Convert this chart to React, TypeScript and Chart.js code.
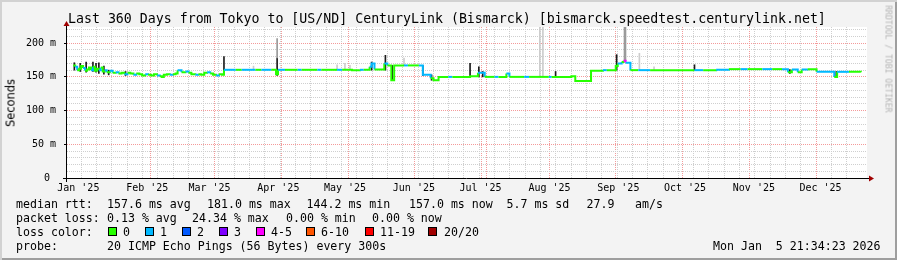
import React, { useEffect, useRef } from 'react';
import { Chart, registerables } from 'chart.js';

Chart.register(...registerables);

// ---- time frame (days since start of the 360-day window) ----
const START_MS = Date.UTC(2025, 0, 10, 21, 34);
const DAY_MS = 86400000;
const dayOf = (y: number, m: number, d: number) => (Date.UTC(y, m, d) - START_MS) / DAY_MS;

const monthLabels = ["Jan '25", "Feb '25", "Mar '25", "Apr '25", "May '25", "Jun '25", "Jul '25", "Aug '25", "Sep '25", "Oct '25", "Nov '25", "Dec '25"];
const monthLabelDates: [number, number, number][] = monthLabels.map((_, i) => [2025, i, 16]);
const monthLineDates: [number, number, number][] = [
  [2025, 1, 1], [2025, 2, 1], [2025, 3, 1], [2025, 4, 1], [2025, 5, 1], [2025, 6, 1],
  [2025, 7, 1], [2025, 8, 1], [2025, 9, 1], [2025, 10, 1], [2025, 11, 1], [2026, 0, 1],
];
const firstWeekLine: [number, number, number] = [2025, 0, 11];

const yTickValues = [0, 10, 20, 30, 40, 50, 60, 70, 80, 90, 100, 110, 120, 130, 140, 150, 160, 170, 180, 190, 200, 210, 220];
const yMax = 224;

// ---- median RTT (ms) with loss count per step ----
const medianDays = [
  0, 0.9, 1.8, 2.7, 3.6, 4.5, 5.4, 6.3, 7.2, 8.1, 9, 9.9, 10.8, 11.7, 12.6, 13.5, 14.4, 15.3, 16.7, 18,
  19.4, 20.7, 22.1, 23.4, 24.8, 26.1, 27.5, 28.8, 30.2, 31.5, 32.9, 34.2, 35.6, 36.9, 38.3, 39.6, 40.5, 41.4, 42.8, 44.1,
  45.5, 46.8, 47.7, 49.5, 51.3, 52.7, 54, 55.8, 57.2, 58.5, 59.9, 61.2, 62.6, 63.9, 65.3, 66.6, 68, 68.9, 74.3, 77,
  83.3, 86, 90.5, 92.7, 93.6, 96.8, 102.6, 104.4, 111.6, 113.4, 120.6, 122.9, 127.4, 131, 132.8, 135.5, 136.4, 137.7, 142.2, 143.6,
  145.4, 146.7, 151.2, 153, 158, 159.8, 163.4, 164.7, 167, 171.5, 173.3, 181.4, 185, 188.1, 192.6, 194.4, 198, 199.4, 206.1, 208.4,
  217.4, 218.7, 227.7, 229.5, 236.7, 242.1, 243.9, 248, 248.9, 250.7, 251.6, 252.5, 254.7, 258.3, 263.7, 271.4, 284, 288, 293.9, 299.7,
  305.1, 308.3, 315, 319.5, 324, 326.7, 328.5, 331.2, 333, 335.7, 339.8, 347.9, 349.2, 354.6, 360,
];
const medianMs = [
  167, 165, 160, 162, 166, 163, 159, 161, 164, 160, 165, 159, 162, 160, 164, 158, 160, 157, 159, 156,
  157, 155, 156, 154, 156, 155, 153, 155, 154, 152, 154, 153, 152, 154, 152, 151, 150, 153, 154, 153,
  154, 155, 160, 157, 158, 156, 154, 153, 154, 153, 156, 157, 155, 153, 152, 154, 153, 160.5, 160.5, 160.5,
  160.5, 160.5, 160.5, 154, 160.5, 160.5, 160.5, 160.5, 160.5, 160.5, 160.5, 160.5, 160, 160.5, 160.5, 165, 170, 161, 170, 167,
  145, 167, 167, 167, 167, 153, 148, 145, 150, 150, 150, 151, 156, 150, 150, 150, 155, 150, 150, 150,
  150, 150, 151, 144, 159, 160, 160, 166, 170, 172, 174, 171, 160, 160, 160, 160, 160, 160, 160.5, 161.5,
  161.5, 161.5, 161.5, 161.5, 161.5, 157, 161, 157, 161, 161.5, 157.5, 150, 157.5, 157.5, 157,
];
const medianLoss = [
  0, 1, 0, 0, 0, 1, 0, 0, 0, 1, 0, 0, 0, 1, 0, 0, 1, 0, 1, 0,
  1, 0, 0, 1, 0, 0, 1, 0, 0, 0, 1, 0, 0, 0, 1, 0, 0, 0, 0, 1,
  0, 0, 1, 0, 1, 0, 0, 1, 0, 0, 0, 1, 0, 0, 1, 0, 0, 1, 0, 1,
  0, 1, 0, 0, 1, 0, 1, 0, 1, 0, 1, 0, 0, 1, 0, 1, 1, 0, 1, 0,
  0, 0, 1, 0, 1, 1, 0, 0, 0, 1, 0, 0, 1, 0, 1, 0, 1, 0, 1, 0,
  1, 0, 0, 0, 0, 1, 0, 0, 1, 0, 4, 1, 0, 1, 0, 0, 1, 0, 1, 0,
  1, 0, 1, 0, 1, 0, 1, 0, 1, 0, 1, 0, 1, 0, 0,
];

// ---- smoke (ping spread) ----
const smokeDays = [0.5, 3.2, 5.9, 9, 10.4, 11.7, 14, 16.2, 23.9, 68.9, 82.4, 93.2, 93.2, 120.6, 124.2, 126.5, 136.4, 142.7, 145.8, 151.2, 159.8, 163.8, 181.4, 185.4, 187.2, 213.3, 214.7, 220.5, 248.4, 252, 252.45, 258.8, 265.5, 284, 327.6, 348.8];
const smokeLow = [160, 158, 157, 158, 157, 155, 154, 153, 152, 157, 161, 152, 178, 161, 161, 161, 160, 160, 145, 167, 152, 145, 151, 150, 150, 150, 150, 150, 160, 174, 174, 161, 161, 160, 155, 150];
const smokeHigh = [171, 170, 172, 172, 170, 171, 166, 160, 158, 180, 166, 178, 207, 168, 170, 167, 172, 182, 167, 178, 167, 153, 170, 165, 158, 224, 224, 158, 183, 224, 224, 185, 165, 168, 161, 158];
const smokeShade = ['d', 'd', 'd', 'd', 'd', 'd', 'd', 'd', 'd', 'd', 'l', 'd', 'm', 'l', 'l', 'l', 'd', 'd', 'd', 'l', 'd', 'd', 'd', 'd', 'd', 'l', 'l', 'd', 'd', 'm', 'm', 'l', 'l', 'd', 'd', 'd'];

const lossColors: Record<string, string> = { '0': '#26ff00', '1': '#00b8ff', '2': '#0059ff', '3': '#7e00ff', '4': '#ff00ff', '6': '#ff5500', '11': '#ff0000', '20': '#a10000' };
const legendItems = [
  { label: '0', color: '#26ff00', sq: 108, tx: 123 },
  { label: '1', color: '#00b8ff', sq: 145, tx: 160 },
  { label: '2', color: '#0059ff', sq: 182, tx: 197 },
  { label: '3', color: '#7e00ff', sq: 219, tx: 234 },
  { label: '4-5', color: '#ff00ff', sq: 256, tx: 271 },
  { label: '6-10', color: '#ff5500', sq: 306, tx: 321 },
  { label: '11-19', color: '#ff0000', sq: 365, tx: 380 },
  { label: '20/20', color: '#a10000', sq: 428, tx: 444 },
];
const shadeColors: Record<string, string> = { d: '#1c1c1c', m: '#9a9a9a', l: '#cdcdcd' };

const MONO = "'DejaVu Sans Mono', monospace";

function lossColor(n: number): string {
  if (n <= 0) return lossColors['0'];
  if (n === 1) return lossColors['1'];
  if (n === 2) return lossColors['2'];
  if (n === 3) return lossColors['3'];
  if (n <= 5) return lossColors['4'];
  if (n <= 10) return lossColors['6'];
  if (n <= 19) return lossColors['11'];
  return lossColors['20'];
}

const rrdPlugin = {
  id: 'rrdFrame',
  beforeDraw(chart: any) {
    const { ctx, chartArea: a } = chart;
    ctx.save();
    ctx.fillStyle = '#ffffff';
    ctx.fillRect(a.left, a.top, a.right - a.left, a.bottom - a.top);
    ctx.restore();
  },
  afterDatasetsDraw(chart: any) {
    const { ctx, chartArea: a } = chart;
    ctx.save();
    ctx.strokeStyle = '#000';
    ctx.lineWidth = 1;
    ctx.beginPath();
    ctx.moveTo(a.left - 4, a.bottom + 0.5);
    ctx.lineTo(a.right + 3, a.bottom + 0.5);
    ctx.moveTo(a.left - 0.5, a.bottom + 4);
    ctx.lineTo(a.left - 0.5, a.top - 2);
    ctx.stroke();
    ctx.fillStyle = '#a00000';
    ctx.beginPath();
    ctx.moveTo(a.right + 2, a.bottom - 2.5);
    ctx.lineTo(a.right + 7, a.bottom + 0.5);
    ctx.lineTo(a.right + 2, a.bottom + 3.5);
    ctx.closePath();
    ctx.fill();
    ctx.beginPath();
    ctx.moveTo(a.left - 3.5, a.top - 1);
    ctx.lineTo(a.left - 0.5, a.top - 6);
    ctx.lineTo(a.left + 2.5, a.top - 1);
    ctx.closePath();
    ctx.fill();
    ctx.restore();
  },
};

function ChartCanvas() {
  const ref = useRef<HTMLCanvasElement>(null);
  useEffect(() => {
    if (!ref.current) return;
    const monthDays = monthLineDates.map((d) => dayOf(...d));
    const gridTicks: { value: number; major: boolean }[] = [];
    for (let w = dayOf(...firstWeekLine); w < 360; w += 7) gridTicks.push({ value: w, major: false });
    monthDays.forEach((m) => gridTicks.push({ value: m, major: true }));
    const labelDays = monthLabelDates.map((d) => dayOf(...d));

    const chart = new Chart(ref.current, {
      type: 'line',
      data: {
        datasets: [
          {
            type: 'line',
            label: 'median',
            data: medianDays.map((d, i) => ({ x: d, y: medianMs[i] })),
            stepped: 'before',
            borderWidth: 2,
            borderCapStyle: 'butt',
            pointRadius: 0,
            borderColor: lossColors['0'],
            segment: {
              borderColor: (c: any) => lossColor(medianLoss[c.p0DataIndex]),
            },
            order: 1,
          } as any,
          {
            type: 'bar',
            label: 'smoke',
            data: smokeDays.map((d, i) => ({ x: d, y: [smokeLow[i], smokeHigh[i]] })),
            backgroundColor: smokeShade.map((s) => shadeColors[s]),
            barThickness: 1,
            grouped: false,
            order: 2,
          } as any,
        ],
      },
      options: {
        animation: false,
        responsive: false,
        devicePixelRatio: 1,
        events: [],
        layout: { padding: { top: 27, right: 30, left: 0, bottom: 0 } },
        plugins: { legend: { display: false }, tooltip: { enabled: false } },
        scales: {
          x: {
            type: 'linear',
            min: 0,
            max: 360,
            position: 'bottom',
            afterBuildTicks: (s: any) => { s.ticks = gridTicks.slice(); },
            afterFit: (s: any) => { s.height = 0; },
            ticks: { display: false, autoSkip: false },
            grid: {
              drawTicks: false,
              color: (c: any) => (c.tick && c.tick.major ? '#f49a9a' : '#cfcfcf'),
              lineWidth: 1,
            },
            border: { display: false, dash: [1, 1] },
          },
          x2: {
            type: 'linear',
            min: 0,
            max: 360,
            position: 'bottom',
            afterBuildTicks: (s: any) => { s.ticks = labelDays.map((v) => ({ value: v })); },
            afterFit: (s: any) => { s.height = 82; },
            ticks: {
              autoSkip: false,
              maxRotation: 0,
              padding: 4,
              color: '#000',
              font: { family: MONO, size: 10 },
              callback: (_v: any, i: number) => monthLabels[i],
            },
            grid: { display: false, drawTicks: false },
            border: { display: false },
          },
          y: {
            type: 'linear',
            min: 0,
            max: yMax,
            afterBuildTicks: (s: any) => { s.ticks = yTickValues.map((v) => ({ value: v, major: v % 50 === 0 })); },
            afterFit: (s: any) => { s.width = 67; },
            ticks: {
              autoSkip: false,
              padding: 8,
              color: '#000',
              font: { family: MONO, size: 10 },
              callback: (v: any) => (v % 50 === 0 ? (v === 0 ? '0 ' : `${v} m`) : ''),
            },
            grid: {
              drawTicks: true,
              tickLength: 3,
              tickColor: (c: any) => (c.tick && c.tick.major ? '#000' : 'rgba(0,0,0,0)'),
              color: (c: any) => (c.tick && c.tick.major ? '#f49a9a' : '#cfcfcf'),
              lineWidth: 1,
            },
            border: { display: false, dash: [1, 1] },
          },
        },
      } as any,
      plugins: [rrdPlugin],
    });
    return () => chart.destroy();
  }, []);
  return <canvas ref={ref} width={897} height={260} style={{ position: 'absolute', left: 0, top: 0, width: 897, height: 260 }} />;
}

function T({ x, y, children, size = 11.6, family = MONO, color = '#000', style = {} }: any) {
  return (
    <div style={{ position: 'absolute', left: x, top: y, fontFamily: family, fontSize: size, lineHeight: '14px', whiteSpace: 'pre', color, ...style }}>
      {children}
    </div>
  );
}

export default function App() {
  const rows = [197, 211, 225, 239];
  return (
    <div
      style={{
        position: 'fixed', left: 0, top: 0, width: 897, height: 260, background: '#f3f3f3', overflow: 'hidden',
        boxShadow: 'inset 2px 2px 0 #d2d2d2, inset -2px -2px 0 #9e9e9e',
      }}
    >
      <ChartCanvas />
      <T x={68} y={11} size={13.25} style={{ lineHeight: '16px' }}>
        Last 360 Days from Tokyo to [US/ND] CenturyLink (Bismarck) [bismarck.speedtest.centurylink.net]
      </T>
      <div
        style={{
          position: 'absolute', left: 11, top: 103, transform: 'translate(-50%, -50%) rotate(-90deg)',
          fontFamily: "'DejaVu Sans', sans-serif", fontSize: 11.4, lineHeight: '13px', whiteSpace: 'pre', color: '#000',
        }}
      >
        Seconds
      </div>
      <div
        style={{
          position: 'absolute', left: 888, top: 59, transform: 'translate(-50%, -50%) rotate(90deg)',
          fontFamily: MONO, fontSize: 8.1, lineHeight: '9px', whiteSpace: 'pre', color: '#b4b4b4',
        }}
      >
        RRDTOOL / TOBI OETIKER
      </div>

      <T x={16} y={rows[0]}>median rtt:</T>
      <T x={107} y={rows[0]}>157.6 ms avg</T>
      <T x={207} y={rows[0]}>181.0 ms max</T>
      <T x={306.5} y={rows[0]}>144.2 ms min</T>
      <T x={409} y={rows[0]}>157.0 ms now</T>
      <T x={506.5} y={rows[0]}>5.7 ms sd</T>
      <T x={586.5} y={rows[0]}>27.9</T>
      <T x={635} y={rows[0]}>am/s</T>

      <T x={16} y={rows[1]}>packet loss:</T>
      <T x={107} y={rows[1]}>0.13 % avg</T>
      <T x={192} y={rows[1]}>24.34 % max</T>
      <T x={286} y={rows[1]}>0.00 % min</T>
      <T x={372} y={rows[1]}>0.00 % now</T>

      <T x={16} y={rows[2]}>loss color:</T>
      {legendItems.map((it) => (
        <React.Fragment key={it.label}>
          <div style={{ position: 'absolute', left: it.sq, top: 227, width: 7, height: 7, background: it.color, border: '1px solid #000' }} />
          <T x={it.tx} y={rows[2]}>{it.label}</T>
        </React.Fragment>
      ))}

      <T x={16} y={rows[3]}>probe:</T>
      <T x={107} y={rows[3]}>20 ICMP Echo Pings (56 Bytes) every 300s</T>
      <T x={713} y={rows[3]}>Mon Jan  5 21:34:23 2026</T>
    </div>
  );
}
